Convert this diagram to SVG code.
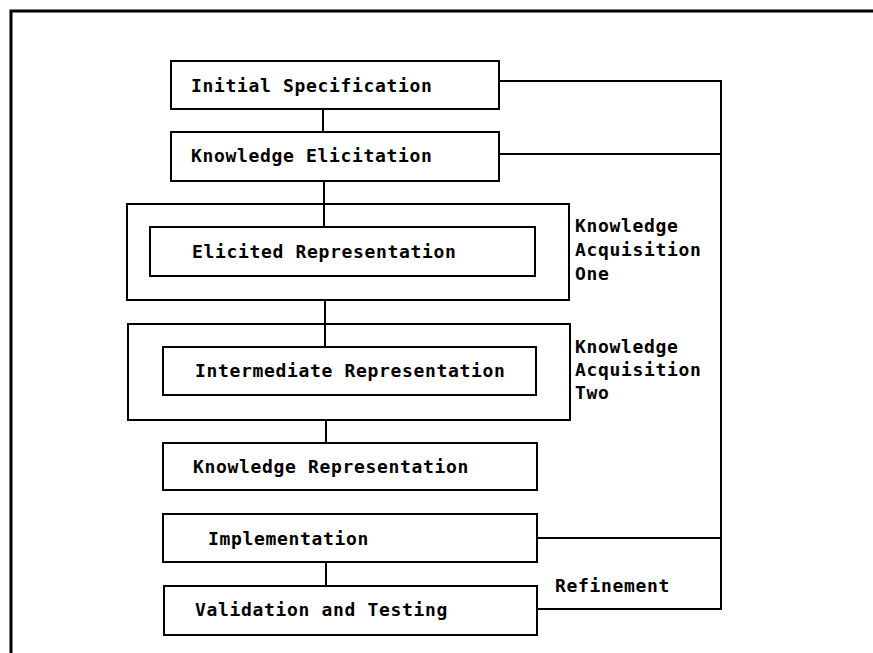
<svg xmlns="http://www.w3.org/2000/svg" width="873" height="653" viewBox="0 0 873 653">
<style>
.box{fill:#fff;stroke:#000;stroke-width:2}
.ln{fill:none;stroke:#000;stroke-width:2}
.frame{fill:none;stroke:#000;stroke-width:3}
text{font-family:"DejaVu Sans Mono","Liberation Mono",monospace;font-weight:bold;font-size:18px;letter-spacing:0.66px;fill:#000}
</style>
<rect width="873" height="653" fill="#fff"/>
<path class="frame" d="M11,653 V11 H873"/>
<g id="connectors">
<path class="ln" d="M323,109 V132 M324,181 V227 M325,300 V347 M326,420 V443 M326,562 V586"/>
<path class="ln" d="M499,81 H721 V609 H537 M499,154 H721 M537,538 H721"/>
</g>
<g id="ka-one">
<rect class="box" x="127" y="204" width="442" height="96" fill="none"/>
<text x="575" y="232">Knowledge</text>
<text x="575" y="256">Acquisition</text>
<text x="575" y="280">One</text>
</g>
<g id="ka-two">
<rect class="box" x="128" y="324" width="442" height="96"/>
<text x="575" y="353">Knowledge</text>
<text x="575" y="376">Acquisition</text>
<text x="575" y="399">Two</text>
</g>
<path class="ln" d="M324,204 V227 M325,324 V347"/>
<g id="initial-specification">
<rect class="box" x="171" y="61" width="328" height="48"/>
<text x="191" y="92">Initial Specification</text>
</g>
<g id="knowledge-elicitation">
<rect class="box" x="171" y="132" width="328" height="49"/>
<text x="191" y="162">Knowledge Elicitation</text>
</g>
<g id="elicited-representation">
<rect class="box" x="150" y="227" width="385" height="49"/>
<text x="192" y="258">Elicited Representation</text>
</g>
<g id="intermediate-representation">
<rect class="box" x="163" y="347" width="373" height="48"/>
<text x="195" y="377">Intermediate Representation</text>
</g>
<g id="knowledge-representation">
<rect class="box" x="163" y="443" width="374" height="47"/>
<text x="193" y="473">Knowledge Representation</text>
</g>
<g id="implementation">
<rect class="box" x="163" y="514" width="374" height="48"/>
<text x="208" y="545">Implementation</text>
</g>
<g id="validation-and-testing">
<rect class="box" x="164" y="586" width="373" height="49"/>
<text x="195" y="616">Validation and Testing</text>
</g>
<g id="refinement-label">
<text x="555" y="592">Refinement</text>
</g>
</svg>
